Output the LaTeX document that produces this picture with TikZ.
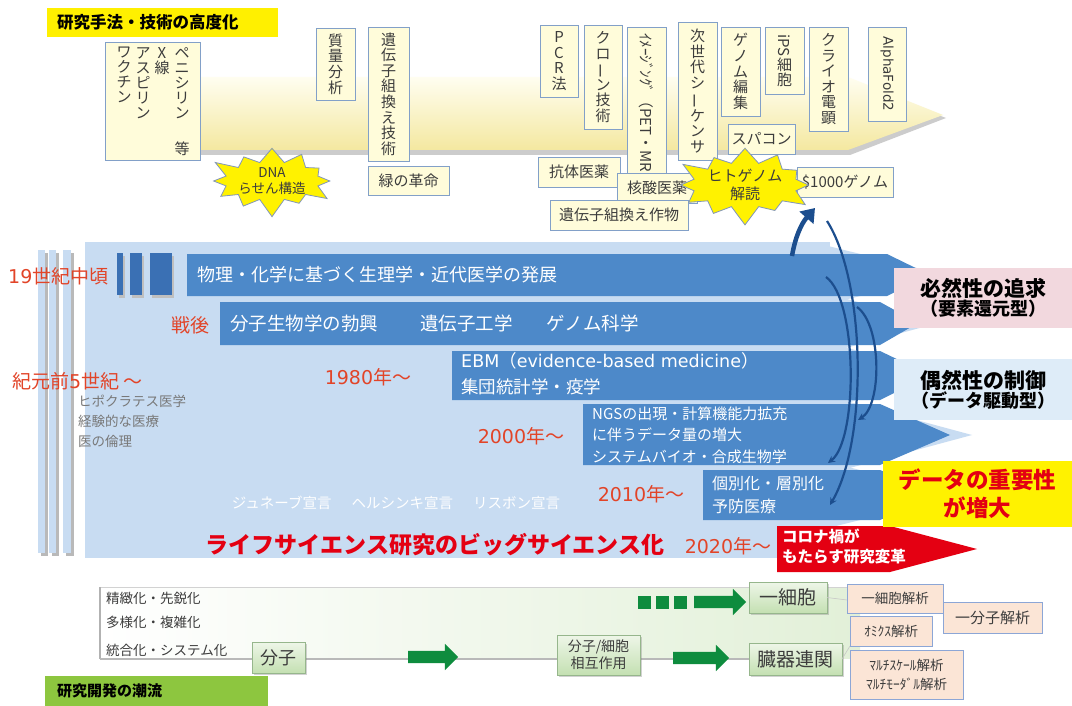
\documentclass[tikz,border=0pt]{standalone}
\usepackage{fontspec}
\setmainfont{Noto Sans CJK JP}
\newfontfamily\latinw{DejaVu Sans}
\usepackage{graphicx}
\usetikzlibrary{shapes.symbols,shapes.arrows,arrows.meta,shadows}
\newcommand{\setfs}[2]{\fontsize{#1}{#2}\selectfont}
\newcommand{\vl}{\rotatebox[origin=c]{90}{ー}}
\newcommand{\mybox}[7]{\node[#6,minimum width={(#4-#2)*1pt},minimum height={(#5-#3)*1pt}] (#1) at ({(#2+#4)/2},{(#3+#5)/2}) {#7};}
\definecolor{cream}{RGB}{255,252,218}
\definecolor{barYel}{RGB}{244,232,160}
\definecolor{boxline}{RGB}{130,160,200}
\definecolor{txt}{RGB}{60,60,60}
\definecolor{titleyel}{RGB}{255,240,0}
\definecolor{panel}{RGB}{200,220,242}
\definecolor{dblue}{RGB}{77,137,201}
\definecolor{ddblue}{RGB}{58,112,180}
\definecolor{arcblue}{RGB}{28,78,142}
\definecolor{eraRed}{RGB}{226,68,40}
\definecolor{bigRed}{RGB}{228,0,18}
\definecolor{pinkbox}{RGB}{242,216,222}
\definecolor{lbluebox}{RGB}{222,236,248}
\definecolor{ybox}{RGB}{255,242,0}
\definecolor{peach}{RGB}{251,229,214}
\definecolor{peachline}{RGB}{140,166,214}
\definecolor{gbox1}{RGB}{238,246,232}
\definecolor{gbox2}{RGB}{196,224,178}
\definecolor{gline}{RGB}{150,182,140}
\definecolor{gpanel}{RGB}{226,240,216}
\definecolor{garrow}{RGB}{14,140,62}
\definecolor{flowgreen}{RGB}{141,198,63}
\definecolor{starline}{RGB}{130,150,186}
\definecolor{grayt}{RGB}{120,120,120}
\begin{document}
\begin{tikzpicture}[x=1pt,y=-1pt,
  vb/.style={draw=boxline,fill=cream,line width=0.9pt,inner sep=0pt,outer sep=0pt,text=txt,align=center,font=\setfs{15}{15.6}},
  hb/.style={draw=boxline,fill=cream,line width=0.9pt,inner sep=0pt,outer sep=0pt,text=txt,font=\setfs{15}{16}},
  vt/.style={inner sep=0pt,text=txt,align=center,font=\setfs{15}{15}},
  burst/.style={starburst,starburst points=12,fill=ybox,draw=starline,line width=0.8pt,align=center,text=txt,inner sep=0pt},
  era/.style={text=eraRed,font=\setfs{19}{21},inner sep=0pt},
  wt/.style={text=white,inner sep=0pt,align=left},
  rbox/.style={inner sep=0pt,outer sep=0pt,align=center},
  pb/.style={draw=peachline,fill=peach,line width=0.8pt,inner sep=0pt,outer sep=0pt,text=txt,align=center,font=\setfs{13.5}{19}},
  gb/.style={draw=gline,line width=0.8pt,top color=gbox1,bottom color=gbox2,inner sep=0pt,outer sep=0pt,text=txt,align=center,drop shadow={opacity=0.35,shadow xshift=2pt,shadow yshift=-2pt}},
  garr/.style={single arrow,fill=garrow,inner sep=0pt,inner ysep=6pt,single arrow head extend=7pt,single arrow tip angle=90},
  gsq/.style={fill=garrow,inner sep=0pt,minimum width=13pt,minimum height=13pt},
  arc/.style={arcblue,line width=2.2pt}
]
\fill[white] (0,0) rectangle (1072,706);
\useasboundingbox (0,0) rectangle (1072,706);

% ===== top: research methods =====
\fill[gray!40] (196,81) -- (850,81) -- (946,118) -- (850,155) -- (196,155) -- cycle;
\shade[top color=cream!40!white,bottom color=barYel] (193,77) -- (848,77) -- (943,115) -- (848,150) -- (193,150) -- cycle;

\node[fill=titleyel,minimum width=231pt,minimum height=29pt,inner sep=0pt,text width=211pt,align=left,font=\setfs{16.5}{18}\bfseries] (title) at (162.5,22.5) {研究手法・技術の高度化};

\mybox{peni}{105}{42}{200}{160}{vb}{}
\node[vt,anchor=north] (pc1) at (182,47) {ペ\\ニ\\シ\\リ\\ン};
\node[vt] (pc1b) at (182,149) {等};
\node[vt,anchor=north] (pc2) at (162,47) {X\\線};
\node[vt,anchor=north] (pc3) at (143,47) {ア\\ス\\ピ\\リ\\ン};
\node[vt,anchor=north] (pc4) at (124,47) {ワ\\ク\\チ\\ン};

\mybox{mass}{316}{28}{355}{100}{vb}{質\\量\\分\\析}
\mybox{recomb}{368}{27}{409}{161}{vb}{遺\\伝\\子\\組\\換\\え\\技\\術}
\mybox{midori}{368}{166}{449}{195}{hb}{緑の革命}

\mybox{pcr}{540}{25}{578}{97}{vb}{P\\C\\R\\法}
\mybox{clone}{584}{25}{622}{129}{vb}{ク\\ロ\\\vl\\ン\\技\\術}
\mybox{imaging}{627}{27}{666}{190}{vb}{}
\begin{scope}
\clip (627,27) rectangle (666,172);
\node[vt,anchor=north,font=\setfs{15}{15}] (imgtxt) at (646.5,33) {\rotatebox{-90}{ｲﾒｰｼﾞﾝｸﾞ（PET・MRI）}};
\end{scope}
\mybox{ngs}{678}{22}{717}{160}{vb}{次\\世\\代\\シ\\\vl\\ケ\\ン\\サ}
\mybox{edit}{721}{27}{760}{116}{vb}{ゲ\\ノ\\ム\\編\\集}
\mybox{ips}{765}{27}{804}{94}{vb}{\rotatebox{-90}{iPS}\\細\\胞}
\mybox{cryo}{809}{27}{848}{131}{vb}{ク\\ラ\\イ\\オ\\電\\顕}
\mybox{alpha}{868}{27}{906}{121}{vb}{\rotatebox{-90}{\latinw\setfs{13.5}{15}AlphaFold2}}

\mybox{kotai}{538}{157}{620}{187}{hb}{抗体医薬}
\mybox{kakusan}{617}{173}{697}{203}{hb}{核酸医薬}
\mybox{sakumotsu}{550}{200}{688}{230}{hb}{遺伝子組換え作物}
\mybox{supercomp}{728}{124}{795}{154}{hb}{スパコン}
\mybox{thousand}{797}{167}{893}{197}{hb}{\$1000ゲノム}

\node[burst,minimum width=86pt,minimum height=30pt,starburst point height=19pt,font=\setfs{13.5}{16}] (dna) at (272,181) {DNA\\らせん構造};
\node[burst,minimum width=86pt,minimum height=36pt,starburst point height=20pt,font=\setfs{15}{18}] (hgp) at (745,185) {ヒトゲノム\\解読};

% ===== middle: big science =====
\fill[panel] (85,242) rectangle (830,558);
\foreach \a/\b in {38/45,49/56,63/71}{
  \fill[gray!55] (\a+3,253) rectangle (\b+3,556);
  \fill[panel] (\a,250) rectangle (\b,553);
}
\foreach \a/\b in {117/123,130/142,150/172}{
  \fill[gray!50] (\a+2,256) rectangle (\b+2,298);
  \fill[ddblue] (\a,253) rectangle (\b,295);
}
\fill[panel] (820,244) -- (945,275) -- (820,306) -- cycle;
\fill[panel] (820,292) -- (938,323) -- (820,355) -- cycle;
\fill[panel] (820,341) -- (952,375) -- (820,410) -- cycle;
\fill[panel] (820,394) -- (972,435) -- (820,476) -- cycle;
\fill[panel] (820,460) -- (960,495) -- (820,530) -- cycle;
\fill[dblue] (187,254) -- (887,254) -- (930,275) -- (887,296) -- (187,296) -- cycle;
\fill[dblue] (220,302) -- (880,302) -- (918,323) -- (880,345) -- (220,345) -- cycle;
\fill[dblue] (452,351) -- (880,351) -- (930,375) -- (880,400) -- (452,400) -- cycle;
\fill[dblue] (583,404) -- (880,404) -- (950,435) -- (880,465) -- (583,465) -- cycle;
\fill[dblue] (703,470) -- (880,470) -- (940,495) -- (880,520) -- (703,520) -- cycle;
\fill[bigRed] (777,526) -- (890,526) -- (977,549) -- (890,572) -- (777,572) -- cycle;

\node[wt,anchor=west,font=\setfs{18}{20}] (row1) at (197,275) {物理・化学に基づく生理学・近代医学の発展};
\node[wt,anchor=west,font=\setfs{18.5}{20}] (row2) at (230,323) {分子生物学の勃興\hspace{42pt}遺伝子工学\hspace{34pt}ゲノム科学};
\node[wt,anchor=west,font=\setfs{17.5}{26}] (row3) at (461,374) {{\latinw EBM}（{\latinw evidence-based medicine}）\\集団統計学・疫学};
\node[wt,anchor=west,font=\setfs{15}{21.5}] (row4) at (592,435) {NGSの出現・計算機能力拡充\\に伴うデータ量の増大\\システムバイオ・合成生物学};
\node[wt,anchor=west,font=\setfs{16}{23}] (row5) at (712,495) {個別化・層別化\\予防医療};
\node[wt,anchor=west,font=\setfs{15.5}{20}\bfseries] (corona) at (782,547) {コロナ禍が\\もたらす研究変革};

\node[era,anchor=west] (e19) at (8,276) {{\latinw 19}世紀中頃};
\node[era,anchor=east] (esengo) at (210,325) {戦後};
\node[era,anchor=west] (ebc) at (12,381) {紀元前{\latinw 5}世紀 ～};
\node[era] (e1980) at (368,377) {{\latinw 1980}年～};
\node[era] (e2000) at (521,436) {{\latinw 2000}年～};
\node[era] (e2010) at (641,494) {{\latinw 2010}年～};
\node[era] (e2020) at (728,546) {{\latinw 2020}年～};

\node[anchor=north west,align=left,text=grayt,inner sep=0pt,font=\setfs{13.5}{20}] (hippo) at (78,395) {ヒポクラテス医学\\経験的な医療\\医の倫理};
\node[text=white,inner sep=0pt,font=\setfs{14.5}{16}] (decl) at (396,503) {ジュネーブ宣言\hspace{20pt}ヘルシンキ宣言\hspace{20pt}リスボン宣言};
\node[text=bigRed,inner sep=0pt,font=\setfs{23}{25}\bfseries] (bigsci) at (435,545) {ライフサイエンス研究のビッグサイエンス化};

\mybox{hitsu}{894}{268}{1072}{328}{rbox,fill=pinkbox}{{\setfs{21}{26}\bfseries 必然性の追求}\\{\setfs{18}{21}\bfseries （要素還元型）}}
\mybox{guzen}{894}{359}{1072}{420}{rbox,fill=lbluebox}{{\setfs{21}{26}\bfseries 偶然性の制御}\\{\setfs{18}{21}\bfseries （データ駆動型）}}
\mybox{data}{883}{461}{1072}{527}{rbox,fill=ybox,text=bigRed,font=\setfs{22.5}{28}\bfseries}{データの重要性\\が増大}

% arcs
\coordinate (aBot) at (830,505);
\coordinate (aTop) at (827,221);
\coordinate (bTop) at (826,277);
\coordinate (bBot) at (828,463);
\coordinate (cTop) at (857,307);
\coordinate (cBot) at (858,420);
\coordinate (upS) at (792,256);
\coordinate (upE) at (815,208);
\draw[arc,{Stealth[length=7pt,width=7pt]}-] (aBot) .. controls (868,440) and (866,282) .. (aTop);
\draw[arc,-{Stealth[length=7pt,width=7pt]}] (bTop) .. controls (858,300) and (858,440) .. (bBot);
\draw[arc,-{Stealth[length=7pt,width=7pt]}] (cTop) .. controls (882,325) and (882,405) .. (cBot);
\draw[arcblue,line width=4.5pt,-{Triangle[length=13pt,width=18pt]}] (upS) .. controls (795,238) and (801,224) .. (upE);

% ===== bottom: R&D trend =====
\shade[left color=white,right color=gpanel] (100,587) rectangle (860,658);
\draw[gray!35,line width=0.6pt] (100,587) -- (860,587);
\draw[gray!60,line width=1.2pt] (100,587) -- (100,659);
\draw[gray!55,line width=2.5pt] (100,659) -- (760,659);

\node[anchor=west,text=txt,inner sep=0pt,font=\setfs{13.5}{15}] (trend1) at (106,598) {精緻化・先鋭化};
\node[anchor=west,text=txt,inner sep=0pt,font=\setfs{13.5}{15}] (trend2) at (106,622) {多様化・複雑化};
\node[anchor=west,text=txt,inner sep=0pt,font=\setfs{13.5}{15}] (trend3) at (106,650) {統合化・システム化};

\mybox{bunshi}{252}{642}{305}{673}{gb,font=\setfs{18}{19}}{分子}
\mybox{sogo}{557}{635}{640}{675}{gb,font=\setfs{14}{17}}{分子/細胞\\相互作用}
\mybox{issaibo}{749}{582}{827}{613}{gb,font=\setfs{19}{20}}{一細胞}
\mybox{zoki}{749}{643}{842}{675}{gb,font=\setfs{19}{20}}{臓器連関}

\node[garr,minimum height=50pt] (ga1) at (430,657) {};
\node[garr,minimum height=56pt] (ga2) at (698,658) {};
\node[gsq] (sq1) at (644,602) {};
\node[gsq] (sq2) at (662,602) {};
\node[gsq] (sq3) at (680,602) {};
\node[garr,minimum height=52pt] (ga3) at (717,602) {};

\draw[gray!45,line width=0.6pt] (issaibo.east) -- (847,600);
\draw[gray!45,line width=0.6pt] (zoki.east) -- (850,646);

\mybox{onecell}{847}{584}{943}{613}{pb}{一細胞解析}
\mybox{onemol}{943}{602}{1042}{633}{pb,font=\setfs{15}{17}}{一分子解析}
\mybox{omics}{850}{616}{932}{646}{pb}{ｵﾐｸｽ解析}
\mybox{multi}{850}{650}{963}{699}{pb}{ﾏﾙﾁｽｹｰﾙ解析\\ﾏﾙﾁﾓｰﾀﾞﾙ解析}

\node[fill=flowgreen,minimum width=223pt,minimum height=31pt,inner sep=0pt,text width=199pt,align=left,font=\setfs{15}{16}\bfseries] (flow) at (156.5,691) {研究開発の潮流};
\end{tikzpicture}
\end{document}
